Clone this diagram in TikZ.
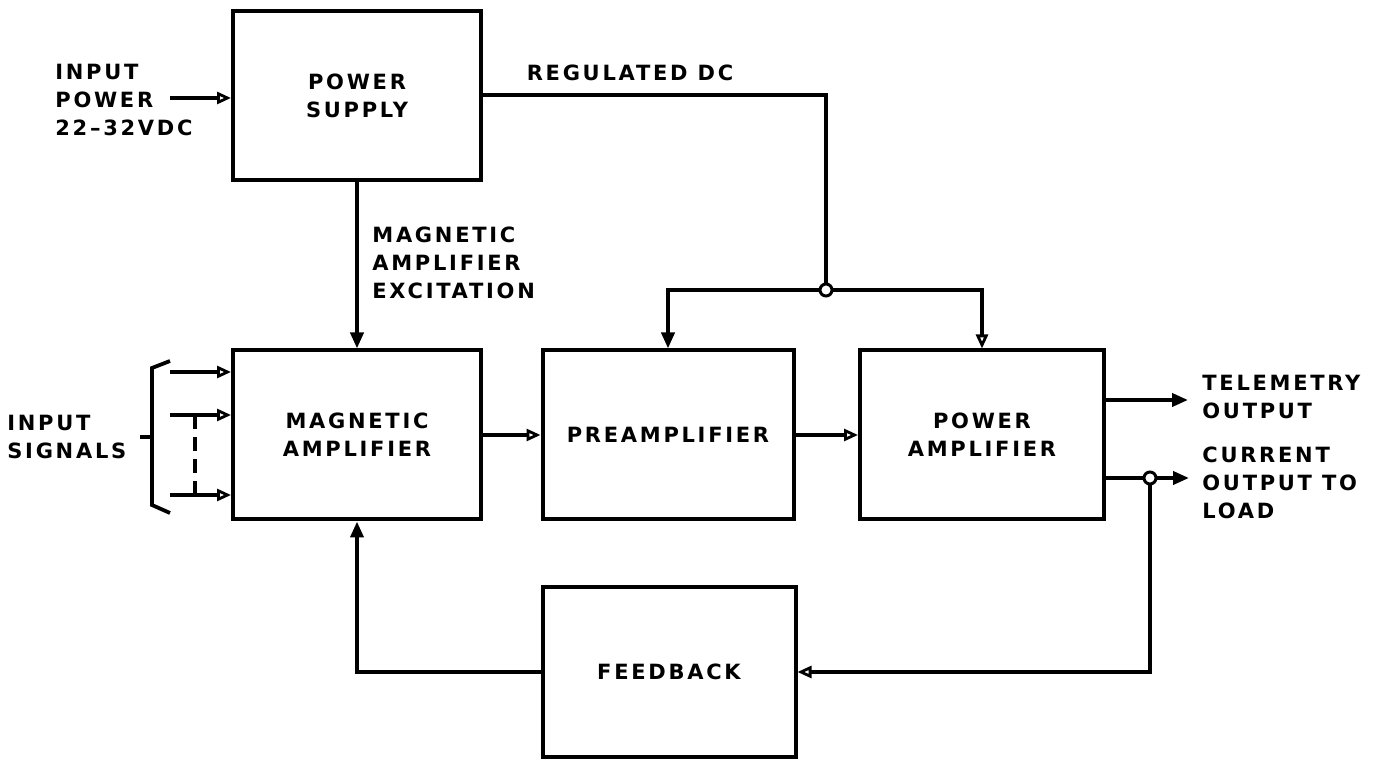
\documentclass[tikz,border=0pt]{standalone}
\usepackage{fontspec}
\setmainfont{DejaVu Sans}[LetterSpace=13]
\usetikzlibrary{arrows.meta}
\begin{document}
\begin{tikzpicture}[x=0.5pt,y=-0.5pt,
  every node/.style={font=\bfseries\fontsize{10.5}{14}\selectfont},
  blk/.style={draw,line width=2pt,inner sep=0pt,align=center,minimum height=84.5pt},
  wire/.style={line width=1.9pt},
  oarw/.style={wire,-{Triangle[open,length=7pt,width=6pt,line width=1.4pt]}},
  farw/.style={wire,-{Triangle[length=8pt,width=6.5pt]}},
  lbl/.style={align=left,anchor=west,inner sep=0pt},
  junc/.style={circle,draw,line width=1.5pt,fill=white,inner sep=0pt,minimum size=6pt}]
\useasboundingbox (0,0) rectangle (1381,769);
% blocks
\node[blk,minimum width=124pt] (ps) at (357,96) {POWER\\SUPPLY};
\node[blk,minimum width=124pt] (ma) at (357,435) {MAGNETIC\\AMPLIFIER};
\node[blk,minimum width=125.5pt] (pre) at (668,435) {PREAMPLIFIER};
\node[blk,minimum width=122pt] (pa) at (982,435) {POWER\\AMPLIFIER};
\node[blk,minimum width=126.5pt,minimum height=85pt] (fb) at (669,672) {FEEDBACK};
% coordinates
\coordinate (ip) at (170,98);
\coordinate (j1) at (826,290);
\coordinate (tel) at (1188,400);
\coordinate (cur) at (1189,478);
\coordinate (j2) at (1150,478);
\coordinate (s1) at (170,372);
\coordinate (s2) at (170,415);
\coordinate (s3) at (170,495);
\coordinate (d1) at (195,415);
\coordinate (d3) at (195,495);
\coordinate (bt) at (170,361);
\coordinate (bu) at (152,368);
\coordinate (bl) at (152,505);
\coordinate (bb) at (170,513);
\coordinate (tk) at (140,437);
% labels
\node[lbl] (inp) at (55,100) {INPUT\\POWER\\22–32VDC};
\node (reg) at (630,73) {REGULATED DC};
\node[lbl] (exc) at (372,263) {MAGNETIC\\AMPLIFIER\\EXCITATION};
\node[lbl] (sig) at (7,437) {INPUT\\SIGNALS};
\node[lbl] (telt) at (1202,397) {TELEMETRY\\OUTPUT};
\node[lbl] (curt) at (1202,483) {CURRENT\\OUTPUT TO\\LOAD};
% connectors
\draw[oarw] (ip) -- (ip -| ps.west);
\draw[farw] (ps.south) -- (ma.north);
\draw[wire] (ps.east |- 0,95) -| (j1);
\draw[farw] (j1) -| (pre.north);
\draw[oarw] (j1) -| (pa.north);
\draw[oarw] (ma.east) -- (pre.west);
\draw[oarw] (pre.west -| pre.east) -- (pa.west);
\draw[farw] (tel -| pa.east) -- (tel);
\draw[farw] (cur -| pa.east) -- (cur);
\draw[oarw] (j2) |- (fb.east);
\draw[farw] (fb.west) -| (ma.south);
\node[junc] (jc1) at (j1) {};
\node[junc] (jc2) at (j2) {};
% input signals
\draw[oarw] (s1) -- (s1 -| ma.west);
\draw[oarw] (s2) -- (s2 -| ma.west);
\draw[oarw] (s3) -- (s3 -| ma.west);
\draw[wire,dash pattern=on 7pt off 4pt] (d1) -- (d3);
\draw[wire] (bt) -- (bu) -- (bl) -- (bb);
\draw[wire] (tk) -- (tk -| bl);
\end{tikzpicture}
\end{document}
